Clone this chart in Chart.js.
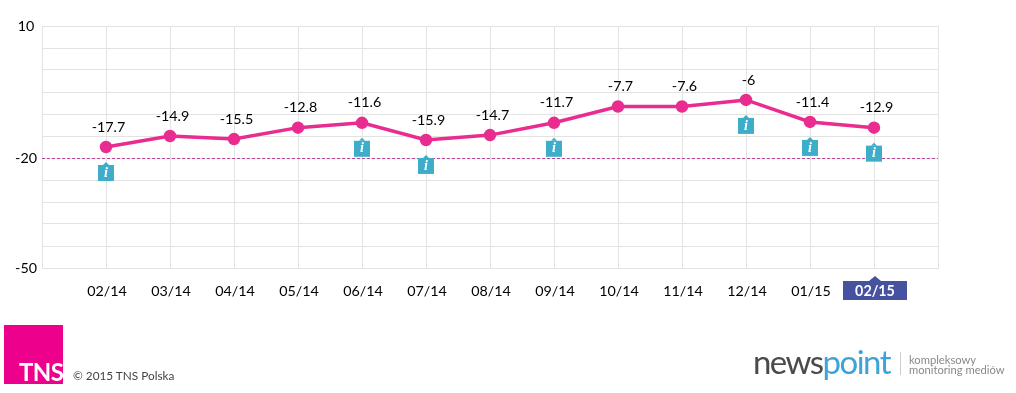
<!DOCTYPE html>
<html><head><meta charset="utf-8">
<style>
html,body{margin:0;padding:0;background:#fff;overflow:hidden}
#wrap{position:relative;width:1016px;height:393px;font-family:Lato,sans-serif}
canvas{position:absolute;left:0;top:0}
.abs{position:absolute;white-space:nowrap;line-height:1}
#tns{left:4px;top:325px;width:59px;height:59px;background:#ec008c}
#tnst{left:19px;top:360px;color:#fff;font-weight:700;font-size:24px;letter-spacing:-.6px}
#copy{left:73px;top:370px;color:#444;font-size:11.8px}
#np{left:753px;top:345px;font-size:33px;font-weight:400;letter-spacing:-1.55px;color:#4a4a4a}
#np span{color:#3fa3d8}
#div{left:900px;top:352px;width:1px;height:23px;background:#ccc}
#k1{left:909px;top:354px;font-size:11.2px;color:#8a8a8a}
#k2{left:909px;top:364px;font-size:11.2px;color:#8a8a8a}
</style></head><body>
<div id="wrap">
<canvas id="c" width="1016" height="393"></canvas>
<div class="abs" id="tns"></div><div class="abs" id="tnst">TNS</div>
<div class="abs" id="copy">© 2015 TNS Polska</div>
<div class="abs" id="np">news<span>point</span></div>
<div class="abs" id="div"></div>
<div class="abs" id="k1">kompleksowy</div>
<div class="abs" id="k2">monitoring mediów</div>
</div>
<script src="https://cdn.jsdelivr.net/npm/chart.js@4"></script>
<script>
const categories=['','02/14','03/14','04/14','05/14','06/14','07/14','08/14','09/14','10/14','11/14','12/14','01/15','02/15',''];
const plotted=[null,-17.5,-15,-15.7,-13.1,-12,-15.9,-14.8,-12,-8.3,-8.3,-6.8,-11.8,-13.1,null];
const valueLabels=['','-17.7','-14.9','-15.5','-12.8','-11.6','-15.9','-14.7','-11.7','-7.7','-7.6','-6','-11.4','-12.9',''];
const infoFlags=[0,1,0,0,0,1,1,0,1,0,0,1,1,1,0];
const yTickLabels={'10':'10','-20':'-20','-45':'-50'};
const referenceLine=-20;
const highlighted='02/15';

const decor={id:'decor',
 beforeDraw(ch){const x=ch.scales.x,c=ch.ctx,i=categories.indexOf(highlighted),px=x.getPixelForValue(i);
  c.save();c.fillStyle='#46519f';c.fillRect(px-31,281,64,19);
  c.beginPath();c.moveTo(px-5,281);c.lineTo(px+1,276);c.lineTo(px+7,281);c.closePath();c.fill();c.restore();},
 beforeDatasetsDraw(ch){const {x,y}=ch.scales,c=ch.ctx,py=Math.round(y.getPixelForValue(referenceLine))+.5;
  c.save();c.strokeStyle='#bd4493';c.lineWidth=1;c.setLineDash([3,2]);
  c.beginPath();c.moveTo(ch.chartArea.left,py);c.lineTo(ch.chartArea.right,py);c.stroke();c.restore();},
 afterDatasetsDraw(ch){const {x,y}=ch.scales,c=ch.ctx;c.save();
  plotted.forEach((v,i)=>{if(v===null)return;const px=x.getPixelForValue(i),py=y.getPixelForValue(v);
   c.fillStyle='#000';c.font='14.3px Lato';c.textAlign='center';c.textBaseline='middle';
   c.fillText(valueLabels[i],px+2.5,py-20);
   if(infoFlags[i]){const t=py+18;c.fillStyle='#3dadc9';c.fillRect(px-8,t,16,16);
    c.beginPath();c.moveTo(px-3,t);c.lineTo(px,t-3);c.lineTo(px+3,t);c.closePath();c.fill();
    c.fillStyle='#fff';c.font='italic bold 14px "Liberation Serif"';c.fillText('i',px,t+8);}
  });c.restore();}
};
new Chart(document.getElementById('c'),{
 type:'line',
 data:{labels:categories,datasets:[{data:plotted,borderColor:'#e92c8f',backgroundColor:'#e92c8f',borderWidth:3.5,pointRadius:4.5,pointHoverRadius:4.5,tension:0}]},
 plugins:[decor],
 options:{responsive:false,animation:false,events:[],
  layout:{padding:{top:26,right:78,left:0,bottom:0}},
  plugins:{legend:{display:false},tooltip:{enabled:false}},
  scales:{
   x:{type:'category',offset:false,
    afterFit(s){s.height=125},
    grid:{color:'#e3e3e3',lineWidth:1,drawTicks:false},border:{color:'#e3e3e3'},
    ticks:{autoSkip:false,maxRotation:0,minRotation:0,padding:15,labelOffset:1,
     color:c=>categories[c.index]===highlighted?'#fff':'#000',
     font:c=>({family:'Lato',size:14.3,weight:categories[c.index]===highlighted?'700':'400'})}},
   y:{type:'linear',min:-45,max:10,
    afterFit(s){s.width=42},
    grid:{color:'#e3e3e3',lineWidth:1,drawTicks:false},border:{color:'#e3e3e3'},
    ticks:{stepSize:5,autoSkip:false,padding:5,crossAlign:'center',color:'#000',font:{family:'Lato',size:14.3},
     callback:v=>yTickLabels[String(v)]||''}}
  }}
});
</script></body></html>
